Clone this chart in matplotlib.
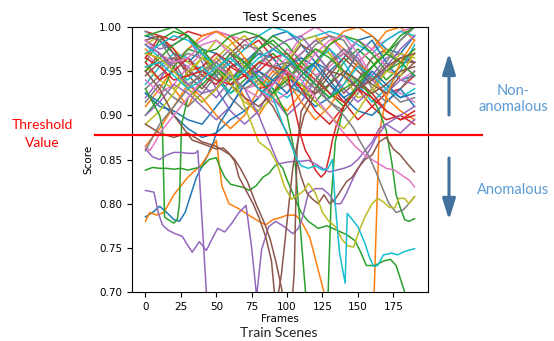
import matplotlib
matplotlib.use("Agg")
import matplotlib.pyplot as plt
import matplotlib.transforms as mtransforms

# frames shared by the tangle of scenes near the top
frames = list(range(0, 191, 10))

# upper tangle (score per 10 frames), three groups
upper_a = [
    [0.99, 0.985, 0.97, 0.96, 0.975, 0.97, 0.955, 0.96, 0.975, 0.99, 0.995, 0.98, 0.96, 0.95, 0.965, 0.985, 0.99, 0.975, 0.97, 0.99],
    [0.975, 0.96, 0.93, 0.91, 0.94, 0.965, 0.95, 0.92, 0.90, 0.925, 0.955, 0.97, 0.985, 0.99, 0.975, 0.96, 0.975, 0.995, 1.0, 0.985],
    [0.96, 0.985, 0.995, 0.99, 0.97, 0.945, 0.925, 0.94, 0.96, 0.97, 0.955, 0.93, 0.915, 0.935, 0.96, 0.975, 0.96, 0.94, 0.955, 0.97],
    [0.995, 0.99, 0.985, 0.995, 0.99, 0.995, 0.99, 0.975, 0.985, 0.965, 0.945, 0.93, 0.925, 0.935, 0.915, 0.895, 0.91, 0.925, 0.93, 0.945],
    [0.985, 0.975, 0.98, 0.99, 0.96, 0.93, 0.905, 0.89, 0.905, 0.935, 0.955, 0.97, 0.985, 0.975, 0.95, 0.93, 0.945, 0.965, 0.97, 0.96],
    [0.95, 0.97, 0.955, 0.93, 0.915, 0.93, 0.955, 0.965, 0.95, 0.935, 0.96, 0.98, 0.97, 0.95, 0.925, 0.94, 0.965, 0.975, 0.96, 0.96],
    [0.97, 0.955, 0.96, 0.975, 0.985, 0.995, 0.99, 0.985, 0.97, 0.95, 0.965, 0.99, 1.0, 0.99, 0.97, 0.96, 0.975, 0.985, 0.995, 1.0],
    [0.93, 0.945, 0.96, 0.97, 0.965, 0.945, 0.92, 0.905, 0.92, 0.945, 0.96, 0.955, 0.935, 0.915, 0.905, 0.925, 0.945, 0.93, 0.915, 0.92],
    [0.98, 0.99, 0.975, 0.96, 0.95, 0.965, 0.98, 0.99, 0.975, 0.955, 0.94, 0.955, 0.975, 0.97, 0.95, 0.935, 0.955, 0.975, 0.96, 0.97],
    [0.935, 0.955, 0.97, 0.965, 0.95, 0.945, 0.96, 0.975, 0.99, 1.0, 0.995, 0.985, 0.99, 0.995, 0.99, 0.98, 0.97, 0.985, 0.995, 0.99],
]
upper_b = [
    [0.925, 0.91, 0.905, 0.895, 0.89, 0.91, 0.93, 0.955, 0.97, 0.965, 0.945, 0.925, 0.91, 0.92, 0.945, 0.97, 0.985, 0.96, 0.94, 0.945],
    [0.91, 0.93, 0.955, 0.975, 0.99, 0.995, 0.985, 0.965, 0.94, 0.92, 0.905, 0.925, 0.955, 0.98, 0.995, 1.0, 0.99, 0.97, 0.96, 0.975],
    [0.90, 0.92, 0.955, 0.975, 0.97, 0.95, 0.935, 0.95, 0.975, 0.99, 0.98, 0.96, 0.945, 0.925, 0.91, 0.93, 0.955, 0.97, 0.985, 1.0],
    [0.965, 0.99, 0.975, 0.95, 0.955, 0.97, 0.96, 0.945, 0.95, 0.965, 0.97, 0.955, 0.94, 0.925, 0.915, 0.93, 0.91, 0.895, 0.90, 0.89],
    [0.92, 0.94, 0.965, 0.955, 0.935, 0.92, 0.94, 0.96, 0.945, 0.92, 0.90, 0.915, 0.94, 0.96, 0.975, 0.965, 0.94, 0.925, 0.94, 0.935],
    [0.985, 0.99, 0.97, 0.945, 0.93, 0.95, 0.97, 0.985, 0.99, 0.975, 0.965, 0.945, 0.93, 0.96, 0.97, 0.955, 0.94, 0.95, 0.965, 0.96],
    [0.94, 0.925, 0.935, 0.955, 0.97, 0.96, 0.945, 0.93, 0.935, 0.955, 0.975, 0.965, 0.945, 0.955, 0.97, 0.985, 0.975, 0.955, 0.94, 0.95],
    [0.995, 0.985, 0.96, 0.935, 0.945, 0.96, 0.975, 0.96, 0.94, 0.925, 0.935, 0.96, 0.98, 0.99, 0.985, 0.96, 0.93, 0.915, 0.93, 0.95],
    [0.955, 0.94, 0.93, 0.945, 0.965, 0.985, 0.975, 0.955, 0.935, 0.94, 0.96, 0.985, 0.99, 0.97, 0.945, 0.92, 0.925, 0.95, 0.97, 0.965],
    [0.98, 0.965, 0.95, 0.94, 0.955, 0.94, 0.925, 0.935, 0.945, 0.93, 0.92, 0.935, 0.96, 0.975, 0.96, 0.935, 0.915, 0.93, 0.95, 0.98],
]
upper_c = [
    [0.925, 0.915, 0.90, 0.885, 0.875, 0.88, 0.895, 0.905, 0.92, 0.94, 0.955, 0.965, 0.955, 0.935, 0.92, 0.905, 0.90, 0.915, 0.93, 0.91],
    [0.865, 0.885, 0.91, 0.935, 0.92, 0.90, 0.885, 0.90, 0.93, 0.95, 0.94, 0.915, 0.895, 0.91, 0.935, 0.96, 0.945, 0.92, 0.905, 0.895],
    [0.99, 0.995, 1.0, 0.99, 0.97, 0.975, 0.99, 0.995, 0.99, 0.98, 0.965, 0.95, 0.96, 0.98, 0.99, 0.985, 0.97, 0.95, 0.96, 0.975],
    [0.96, 0.94, 0.95, 0.965, 0.945, 0.935, 0.955, 0.945, 0.93, 0.935, 0.95, 0.93, 0.905, 0.89, 0.91, 0.935, 0.925, 0.905, 0.895, 0.905],
    [0.90, 0.915, 0.935, 0.925, 0.91, 0.895, 0.91, 0.935, 0.955, 0.975, 0.985, 0.99, 0.97, 0.95, 0.93, 0.915, 0.93, 0.955, 0.975, 0.99],
    [0.945, 0.96, 0.965, 0.95, 0.94, 0.955, 0.935, 0.92, 0.91, 0.925, 0.945, 0.935, 0.925, 0.945, 0.965, 0.95, 0.935, 0.925, 0.945, 0.96],
    [0.985, 0.97, 0.96, 0.965, 0.98, 0.985, 0.97, 0.95, 0.93, 0.915, 0.925, 0.95, 0.97, 0.985, 0.99, 0.97, 0.945, 0.93, 0.925, 0.915],
    [0.915, 0.935, 0.92, 0.91, 0.925, 0.945, 0.965, 0.98, 0.975, 0.955, 0.935, 0.925, 0.94, 0.96, 0.975, 0.96, 0.94, 0.96, 0.985, 1.0],
    [0.89, 0.905, 0.925, 0.95, 0.965, 0.955, 0.935, 0.915, 0.905, 0.92, 0.945, 0.935, 0.915, 0.90, 0.885, 0.905, 0.93, 0.95, 0.945, 0.97],
    [0.97, 0.98, 0.99, 0.985, 0.97, 0.955, 0.94, 0.95, 0.965, 0.975, 0.965, 0.95, 0.935, 0.92, 0.935, 0.955, 0.945, 0.93, 0.92, 0.93],
]

# scenes that drop below the threshold (own frame lists)
blue_x = [0, 5, 10, 15, 20, 24, 28, 32, 36, 40, 44, 48, 52, 60, 70, 80, 90, 100, 110, 120, 130, 140, 150, 160, 170, 180, 190]
blue_y = [0.785, 0.79, 0.797, 0.79, 0.782, 0.78, 0.79, 0.81, 0.83, 0.842, 0.855, 0.87, 0.89, 0.91, 0.935, 0.95, 0.94, 0.925, 0.945, 0.96, 0.94, 0.92, 0.93, 0.95, 0.935, 0.92, 0.925]

orange_x = [0, 3, 8, 13, 20, 30, 40, 46, 50, 54, 59, 65, 70, 75, 80, 85, 90, 95, 100, 106, 110, 116, 126, 130]
orange_y = [0.78, 0.79, 0.787, 0.79, 0.81, 0.83, 0.845, 0.86, 0.872, 0.82, 0.80, 0.795, 0.79, 0.785, 0.78, 0.776, 0.782, 0.784, 0.787, 0.787, 0.78, 0.762, 0.70, 0.66]

orange_late_x = [159, 161.5, 165, 170, 180, 190]
orange_late_y = [0.62, 0.70, 0.88, 0.92, 0.96, 0.985]

green_flat_x = [0, 5, 10, 15, 20, 25, 30, 35, 40, 45, 50, 53, 56, 60, 65, 70, 73, 78, 83, 87, 91, 94, 97, 100, 104, 107, 110, 115, 122, 128, 135, 142, 148, 152, 156, 162, 168, 173, 177, 183, 188]
green_flat_y = [0.838, 0.841, 0.84, 0.84, 0.839, 0.84, 0.838, 0.84, 0.842, 0.85, 0.852, 0.84, 0.83, 0.822, 0.82, 0.818, 0.815, 0.82, 0.83, 0.834, 0.842, 0.846, 0.84, 0.827, 0.812, 0.80, 0.79, 0.78, 0.772, 0.775, 0.77, 0.765, 0.758, 0.745, 0.73, 0.73, 0.735, 0.737, 0.73, 0.70, 0.67]

green_dip_x = [0, 5, 10, 12, 13.5, 16, 20, 22.5, 24, 25.5, 30, 40, 50, 60, 70, 80, 90, 100, 110, 120, 130, 140, 150, 160, 170, 180, 190]
green_dip_y = [0.93, 0.915, 0.90, 0.885, 0.785, 0.782, 0.778, 0.782, 0.80, 0.89, 0.92, 0.935, 0.95, 0.97, 0.96, 0.94, 0.925, 0.94, 0.96, 0.975, 0.965, 0.95, 0.94, 0.955, 0.97, 0.96, 0.945]

green_v_x = [90, 100, 105, 109, 113, 116, 126, 129, 131, 134, 140, 150, 160, 170, 180, 190]
green_v_y = [0.93, 0.90, 0.86, 0.78, 0.70, 0.64, 0.64, 0.70, 0.80, 0.87, 0.91, 0.935, 0.955, 0.97, 0.99, 1.0]

green_end_x = [0, 10, 20, 30, 40, 50, 60, 70, 80, 90, 100, 110, 120, 130, 140, 150, 160, 165, 170, 174, 177, 180, 183, 186, 190]
green_end_y = [0.95, 0.965, 0.98, 0.99, 0.975, 0.955, 0.94, 0.955, 0.975, 0.985, 0.97, 0.95, 0.935, 0.92, 0.93, 0.94, 0.92, 0.905, 0.883, 0.846, 0.81, 0.795, 0.782, 0.78, 0.783]

red_x = [0, 10, 20, 30, 40, 50, 60, 70, 80, 90, 100, 105, 110, 113, 116, 120, 124, 127, 130, 132, 135, 140, 150, 160, 170, 180, 190]
red_y = [0.965, 0.955, 0.94, 0.945, 0.95, 0.94, 0.935, 0.945, 0.96, 0.955, 0.95, 0.91, 0.875, 0.86, 0.852, 0.838, 0.83, 0.835, 0.855, 0.872, 0.89, 0.91, 0.93, 0.92, 0.905, 0.895, 0.90]

purple_drop_x = [0, 5, 10, 15, 20, 25, 30, 35, 37, 43, 46]
purple_drop_y = [0.862, 0.853, 0.85, 0.855, 0.858, 0.858, 0.857, 0.857, 0.86, 0.70, 0.62]

purple_low_x = [0, 6, 9, 12, 16, 21, 26, 29, 33, 38, 43, 47, 51, 56, 61, 66, 71, 75, 78.5, 82, 87, 92, 98, 104, 108, 111, 115, 120, 125, 130, 134, 138, 142, 147, 152, 158, 163, 170, 180, 190]
purple_low_y = [0.815, 0.813, 0.79, 0.776, 0.77, 0.766, 0.763, 0.755, 0.745, 0.757, 0.747, 0.76, 0.772, 0.768, 0.778, 0.79, 0.798, 0.75, 0.695, 0.748, 0.774, 0.78, 0.774, 0.766, 0.772, 0.785, 0.812, 0.817, 0.817, 0.81, 0.80, 0.80, 0.812, 0.83, 0.845, 0.86, 0.875, 0.89, 0.90, 0.91]

purple_mid_x = [0, 10, 20, 30, 40, 50, 60, 70, 80, 85, 90, 94, 100, 105, 110, 115, 120, 125, 130, 135, 140, 145, 150, 155, 160, 165, 170, 180, 190]
purple_mid_y = [0.98, 0.97, 0.95, 0.935, 0.925, 0.93, 0.945, 0.93, 0.90, 0.88, 0.86, 0.845, 0.847, 0.848, 0.848, 0.849, 0.845, 0.84, 0.836, 0.838, 0.84, 0.843, 0.85, 0.86, 0.87, 0.885, 0.89, 0.88, 0.895]

brown_a_x = [0, 10, 20, 27, 33, 40, 45, 50, 55, 59, 63, 66, 71, 76, 80, 85, 89, 91, 93, 96, 100, 104, 108, 112, 120, 130, 140, 150, 160, 170, 180, 190]
brown_a_y = [0.95, 0.93, 0.90, 0.885, 0.872, 0.868, 0.865, 0.862, 0.863, 0.857, 0.848, 0.83, 0.815, 0.80, 0.785, 0.762, 0.735, 0.70, 0.69, 0.72, 0.78, 0.84, 0.875, 0.90, 0.925, 0.935, 0.95, 0.94, 0.925, 0.935, 0.95, 0.955]

brown_b_x = [0, 10, 20, 30, 40, 50, 55, 60, 63, 67, 72, 78, 84, 88, 92, 96, 98, 102, 105, 107, 110, 120, 130, 140, 150, 160, 170, 180, 190]
brown_b_y = [0.89, 0.88, 0.875, 0.88, 0.87, 0.865, 0.86, 0.855, 0.85, 0.84, 0.825, 0.80, 0.778, 0.76, 0.735, 0.705, 0.68, 0.66, 0.72, 0.86, 0.905, 0.93, 0.95, 0.945, 0.93, 0.94, 0.955, 0.965, 0.97]

brown_c_x = [60, 70, 80, 90, 100, 105, 110, 114, 118, 122, 126, 130, 134, 138, 142, 146, 150, 155, 160, 165, 170, 175, 180, 185, 190]
brown_c_y = [0.97, 0.95, 0.93, 0.91, 0.88, 0.86, 0.83, 0.812, 0.805, 0.80, 0.81, 0.80, 0.805, 0.815, 0.825, 0.83, 0.84, 0.85, 0.855, 0.87, 0.875, 0.862, 0.855, 0.845, 0.836]

pink_x = [0, 3, 7, 10, 20, 30, 40, 50, 60, 70, 80, 90, 100, 110, 120, 130, 140, 148, 155, 160, 165, 170, 176, 183, 186, 190]
pink_y = [0.865, 0.86, 0.87, 0.88, 0.90, 0.92, 0.94, 0.955, 0.945, 0.93, 0.92, 0.935, 0.95, 0.94, 0.92, 0.90, 0.88, 0.865, 0.855, 0.85, 0.845, 0.84, 0.838, 0.83, 0.827, 0.819]

gray_x = [0, 10, 20, 30, 40, 50, 60, 70, 80, 90, 100, 110, 120, 130, 140, 147, 151, 158, 163, 168, 172, 177, 182, 186, 190]
gray_y = [0.86, 0.89, 0.91, 0.93, 0.95, 0.96, 0.945, 0.93, 0.94, 0.955, 0.96, 0.945, 0.93, 0.915, 0.90, 0.885, 0.872, 0.853, 0.835, 0.815, 0.80, 0.79, 0.793, 0.80, 0.808]

olive_x = [0, 10, 20, 30, 40, 50, 60, 70, 80, 88, 93, 98, 103, 108, 112, 115, 120, 125, 129, 134, 139, 143, 147, 151, 155, 160, 164, 168, 172, 176, 179, 183, 186, 190]
olive_y = [0.97, 0.965, 0.95, 0.93, 0.915, 0.93, 0.95, 0.91, 0.87, 0.86, 0.845, 0.82, 0.805, 0.81, 0.815, 0.823, 0.812, 0.79, 0.781, 0.774, 0.759, 0.752, 0.751, 0.77, 0.785, 0.80, 0.806, 0.802, 0.796, 0.795, 0.806, 0.806, 0.80, 0.808]

cyan_x = [0, 10, 20, 30, 40, 50, 60, 70, 80, 90, 97, 102, 107, 110, 115, 120, 125, 129, 132, 134, 137, 141, 142.5, 147, 150, 155, 158, 161, 164, 168, 174, 178, 183, 190]
cyan_y = [0.955, 0.96, 0.945, 0.93, 0.94, 0.955, 0.965, 0.95, 0.93, 0.92, 0.89, 0.87, 0.85, 0.843, 0.84, 0.843, 0.838, 0.84, 0.85, 0.80, 0.745, 0.71, 0.789, 0.78, 0.774, 0.755, 0.74, 0.729, 0.73, 0.742, 0.744, 0.742, 0.746, 0.749]

threshold = 0.878
yticks = [0.70, 0.75, 0.80, 0.85, 0.90, 0.95, 1.00]
xticks = [0, 25, 50, 75, 100, 125, 150, 175]

W, H = 554, 341
fig = plt.figure(figsize=(W / 100, H / 100), dpi=100)
ax = fig.add_axes([132 / W, 1 - 292 / H, 296 / W, 265 / H])

lw = 1.1
for group in (upper_a, upper_b, upper_c):
    for scores in group:
        ax.plot(frames, scores, lw=lw)

lower = [
    (blue_x, blue_y, "C0"), (orange_x, orange_y, "C1"), (orange_late_x, orange_late_y, "C1"),
    (green_flat_x, green_flat_y, "C2"), (green_dip_x, green_dip_y, "C2"), (green_v_x, green_v_y, "C2"),
    (green_end_x, green_end_y, "C2"), (red_x, red_y, "C3"), (purple_drop_x, purple_drop_y, "C4"),
    (purple_low_x, purple_low_y, "C4"), (purple_mid_x, purple_mid_y, "C4"), (brown_a_x, brown_a_y, "C5"),
    (brown_b_x, brown_b_y, "C5"), (brown_c_x, brown_c_y, "C5"), (pink_x, pink_y, "C6"),
    (gray_x, gray_y, "C7"), (olive_x, olive_y, "C8"), (cyan_x, cyan_y, "C9"),
]
for xs, ys, c in lower:
    ax.plot(xs, ys, color=c, lw=lw)

ax.set_xlim(-9.5, 199.5)
ax.set_ylim(0.70, 1.00)
ax.set_yticks(yticks)
ax.set_yticklabels(["%.2f" % v for v in yticks])
ax.set_xticks(xticks)
ax.tick_params(labelsize=7.5)
ax.set_title("Test Scenes", fontsize=9, pad=4)
ax.set_xlabel("Frames", fontsize=7.5, labelpad=2)
ax.set_ylabel("Score", fontsize=7.5)

# threshold line running past the axes
trans = mtransforms.blended_transform_factory(fig.transFigure, ax.transData)
ax.plot([95 / W, 482 / W], [threshold, threshold], color="red", lw=1.6,
        transform=trans, clip_on=False, zorder=5)

note_font = "Lato"
fig.text(42 / W, 1 - 125 / H, "Threshold", color="red", fontsize=10,
         family=note_font, ha="center", va="center")
fig.text(42 / W, 1 - 143 / H, "Value", color="red", fontsize=10,
         family=note_font, ha="center", va="center")
fig.text(279 / W, 1 - 333 / H, "Train Scenes", color="#222222", fontsize=10,
         family=note_font, ha="center", va="center")
fig.text(513 / W, 1 - 99 / H, "Non-\nanomalous", color="#5B9BD5", fontsize=10.5,
         family=note_font, ha="center", va="center", linespacing=1.1)
fig.text(513 / W, 1 - 190 / H, "Anomalous", color="#5B9BD5", fontsize=10.5,
         family=note_font, ha="center", va="center")

arrow = dict(arrowstyle="-|>,head_width=0.28,head_length=0.9", lw=2.2,
             color="#41719C", mutation_scale=14, shrinkA=0, shrinkB=0)
ax.annotate("", xy=(449 / W, 1 - 53 / H), xytext=(449 / W, 1 - 115 / H),
            xycoords="figure fraction", textcoords="figure fraction", arrowprops=arrow)
ax.annotate("", xy=(449 / W, 1 - 220 / H), xytext=(449 / W, 1 - 158 / H),
            xycoords="figure fraction", textcoords="figure fraction", arrowprops=arrow)

fig.savefig("out.png", dpi=100)
